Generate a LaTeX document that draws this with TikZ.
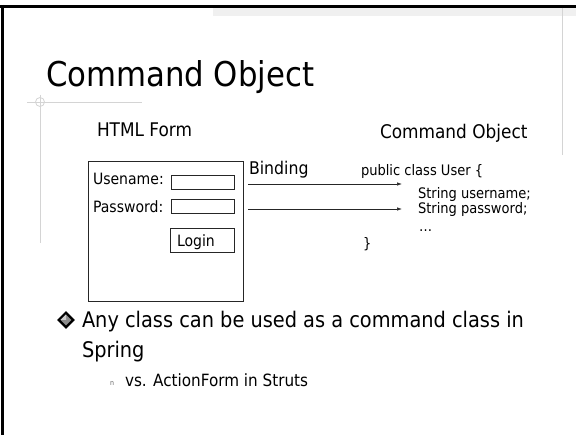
\documentclass[tikz,border=0pt]{standalone}
\usepackage{fontspec}
\setmainfont{DejaVu Sans}[FakeStretch=0.9]
\usetikzlibrary{arrows.meta,shapes.geometric}
\newcommand\setsize[1]{\fontsize{#1pt}{#1pt}\selectfont}
\begin{document}
\begin{tikzpicture}[x=1pt,y=-1pt,
  txt/.style={anchor=base west,inner sep=0pt,outer sep=0pt},
  field/.style={draw=black!85,line width=0.7pt,inner sep=0pt,anchor=north west},
  guide/.style={draw=black!17,line width=0.8pt},
  link/.style={draw=black!85,line width=0.7pt,-{Latex[length=5pt,width=3.5pt]}}]
\useasboundingbox (0,0) rectangle (576,435);
\fill[white] (0,0) rectangle (576,435);

% slide frame and guide lines
\fill[black!6] (213,8) rectangle (576,16);
\draw[line width=3pt] (0,6.5) -- (576,6.5);
\draw[line width=3pt] (2.5,5) -- (2.5,435);
\draw[guide] (562.5,8) -- (562.5,155);
\draw[guide] (27,102) -- (142,102);
\draw[guide] (40,95) -- (40,243);
\draw[guide] (40,102) circle[radius=4.5pt];

% title
\node[txt] (title) at (46,87) {\setsize{34.2}Command Object};

% column headings
\node[txt] (formhead) at (97,137) {\setsize{18.8}HTML Form};
\node[txt] (objhead) at (380,139) {\setsize{18.8}Command Object};

% the HTML form
\node[field,minimum width=155pt,minimum height=140pt] (form) at (88,161) {};
\node[txt] (ulabel) at (93,185) {\setsize{15.6}Usename:};
\node[txt] (plabel) at (93,213) {\setsize{15.6}Password:};
\node[field,minimum width=63pt,minimum height=14pt] (ufield) at (171,175) {};
\node[field,minimum width=63pt,minimum height=14pt] (pfield) at (171,199) {};
\node[field,minimum width=64pt,minimum height=24pt] (login) at (170,228) {};
\node[txt] (logintext) at (177,247) {\setsize{15.6}Login};

% binding arrows
\node[txt] (binding) at (249,175) {\setsize{17.5}Binding};
\coordinate (u0) at (248,184);
\coordinate (u1) at (402,184);
\coordinate (p0) at (248,209);
\coordinate (p1) at (402,209);
\draw[link] (u0) -- (u1);
\draw[link] (p0) -- (p1);

% the command class
\node[txt] (cls) at (361,176) {\setsize{14.5}public class User \{};
\node[txt] (ufld) at (418,199) {\setsize{14.5}String username;};
\node[txt] (pfld) at (418,214) {\setsize{14.5}String password;};
\node[txt] (more) at (419,232) {\setsize{14.5}\dots};
\node[txt] (close) at (363,249) {\setsize{14.5}\}};

% bullets
\node[diamond,fill=black,minimum width=18pt,minimum height=18pt,inner sep=0pt] (dot) at (66,320) {};
\node[diamond,fill=black!45,minimum width=11pt,minimum height=11pt,inner sep=0pt] (dotin) at (dot.center) {};
\fill[white!80!black] (dotin.north) -- (dotin.west) -- (dotin.center) -- cycle;
\node[txt] (b1) at (82,328) {\setsize{21.5}Any class can be used as a command class in};
\node[txt] (b1b) at (82,358) {\setsize{21.5}Spring};
\node[txt,text=black!60] (sub) at (110,386) {\setsize{7}n};
\node[txt] (b2) at (125,387) {\setsize{16.9}vs. ActionForm in Struts};
\end{tikzpicture}
\end{document}
